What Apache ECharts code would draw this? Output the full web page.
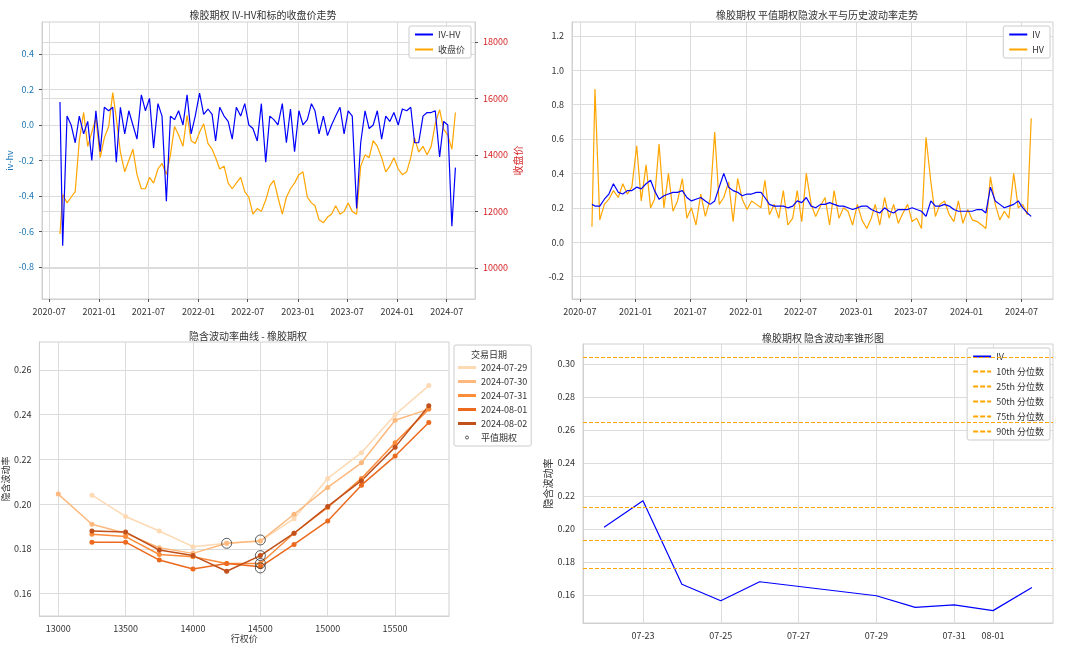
<!DOCTYPE html>
<html>
<head>
<meta charset="utf-8">
<script src="https://cdn.jsdelivr.net/npm/echarts@6/dist/echarts.min.js"></script>
<style>html,body{margin:0;padding:0;background:#fff}#main{width:1080px;height:646px}</style>
</head>
<body>
<div id="main"></div>
<script>
// 半月采样的时间序列 (2020-08 ~ 2024-08-02)
var closePrice = [11200,12600, 12300,12500, 12700,14500, 15500,14300, 14800,15300,
  13900,14600, 15000,16200, 15300,14100, 13400,13800, 14200,13300, 12800,12800,
  13200,13000, 13500,13700, 13300,14000, 15000,14700, 14300,15400, 14500,14400,
  14800,15100, 14400,14200, 13900,13500, 13600,13000, 12800,13000, 13200,12700,
  12500,11900, 12100,12000, 12400,12900, 13100,12500, 11900,12500, 12800,13000,
  13300,13400, 12500,12300, 12200,11700, 11600,11800, 11900,12200, 11900,12000,
  12300,12000, 11900,13600, 14000,13900, 14500,14300, 13900,13400, 13600,13900,
  13500,13300, 13400,13900, 14600,14100, 14300,14000, 14300,15100, 15600,14900,
  14700,14200, 15500];
var ivhv = [0.13,-0.68, 0.05,0.0, -0.1,0.05, -0.05,0.02, -0.2,0.08,
  -0.15,0.1, 0.08,0.1, -0.21,0.1, -0.05,0.08, 0.0,-0.08, 0.17,0.08,
  0.15,-0.13, 0.12,0.05, -0.43,0.05, 0.03,0.08, 0.0,0.17, -0.05,0.05,
  0.18,0.06, 0.09,0.06, -0.09,0.1, 0.05,0.02, -0.08,0.1, 0.05,0.12,
  0.0,-0.02, -0.09,0.12, -0.21,0.05, 0.03,0.0, 0.12,-0.1, 0.09,-0.15,
  0.08,0.0, 0.03,0.12, 0.08,-0.05, 0.05,-0.06, 0.0,0.05, 0.10,-0.05,
  0.08,0.05, -0.47,-0.1, 0.08,-0.02, 0.0,0.08, -0.08,0.05, 0.02,0.07,
  0.0,0.09, 0.08,0.1, -0.1,-0.1, 0.05,0.07, 0.07,0.08, -0.18,0.02,
  0.0,-0.57, -0.24];
var ivSeries = [0.22,0.21, 0.21,0.25, 0.28,0.34, 0.29,0.28, 0.30,0.30,
  0.32,0.31, 0.34,0.36, 0.30,0.25, 0.27,0.28, 0.29,0.29, 0.30,0.26,
  0.24,0.25, 0.26,0.24, 0.22,0.24, 0.32,0.40, 0.32,0.30, 0.29,0.27,
  0.28,0.28, 0.29,0.29, 0.26,0.22, 0.21,0.21, 0.21,0.20, 0.21,0.24,
  0.23,0.26, 0.21,0.20, 0.22,0.22, 0.23,0.22, 0.21,0.21, 0.20,0.19,
  0.20,0.21, 0.21,0.19, 0.18,0.17, 0.20,0.18, 0.17,0.19, 0.19,0.19,
  0.20,0.19, 0.18,0.15, 0.24,0.21, 0.21,0.22, 0.21,0.19, 0.18,0.18,
  0.18,0.18, 0.19,0.19, 0.17,0.32, 0.24,0.22, 0.20,0.21, 0.22,0.24,
  0.20,0.17, 0.15];
var hvSeries = [0.09,0.89, 0.13,0.22, 0.25,0.30, 0.26,0.34, 0.28,0.32,
  0.56,0.24, 0.45,0.20, 0.25,0.57, 0.20,0.40, 0.18,0.24, 0.37,0.14,
  0.20,0.10, 0.28,0.15, 0.25,0.64, 0.22,0.26, 0.35,0.12, 0.37,0.25,
  0.19,0.24, 0.22,0.20, 0.36,0.16, 0.22,0.14, 0.30,0.10, 0.14,0.30,
  0.12,0.40, 0.22,0.15, 0.21,0.26, 0.10,0.30, 0.14,0.20, 0.18,0.10,
  0.22,0.13, 0.08,0.14, 0.22,0.10, 0.26,0.14, 0.22,0.11, 0.17,0.22,
  0.12,0.14, 0.08,0.61, 0.35,0.15, 0.22,0.24, 0.16,0.12, 0.24,0.11,
  0.19,0.13, 0.12,0.10, 0.08,0.38, 0.22,0.13, 0.18,0.14, 0.40,0.20,
  0.22,0.16, 0.72];

// 波动率微笑
var strikes = [13000,13250,13500,13750,14000,14250,14500,14750,15000,15250,15500,15750];
var smileDates = ['2024-07-29','2024-07-30','2024-07-31','2024-08-01','2024-08-02'];
var smile0729 = [null,0.204,0.1945,0.188,0.181,0.1825,0.1835,0.1935,0.2115,0.223,0.240,0.253];
var smile0730 = [0.2045,0.191,0.187,0.1805,0.178,0.1825,0.1835,0.1955,0.2075,0.2185,0.2375,0.2425];
var smile0731 = [null,0.1865,0.1855,0.1775,0.1765,0.1735,0.1735,0.187,0.1985,0.2115,0.2275,0.2425];
var smile0801 = [null,0.183,0.183,0.175,0.171,0.1735,0.172,0.182,0.1925,0.2085,0.2215,0.2365];
var smile0802 = [null,0.188,0.1875,0.1795,0.177,0.170,0.177,0.187,0.199,0.2105,0.2255,0.244];
var atmPoints = [[14250,0.1825],[14500,0.184],[14500,0.177],[14500,0.1735],[14500,0.1715]];

// 锥形图
var coneDates = ['2024-07-22','2024-07-23','2024-07-24','2024-07-25','2024-07-26','2024-07-29','2024-07-30','2024-07-31','2024-08-01','2024-08-02'];
var coneIV = [0.201,0.217,0.1665,0.1565,0.168,0.1595,0.1525,0.154,0.1505,0.1645];
var quantNames = ['10th 分位数','25th 分位数','50th 分位数','75th 分位数','90th 分位数'];
var quantValues = [0.176,0.193,0.213,0.2645,0.304];

function ts(d) { return Date.UTC(+d.slice(0, 4), +d.slice(5, 7) - 1, +d.slice(8, 10), +(d.slice(11, 13) || 0)); }
var dates = [];
for (var y = 2020; y <= 2024; y++) {
  for (var m = 1; m <= 12; m++) {
    if (y === 2020 && m < 8) continue;
    if (y === 2024 && m > 7) continue;
    var mm = (m < 10 ? '0' : '') + m;
    dates.push(y + '-' + mm + '-05', y + '-' + mm + '-20');
  }
}
dates[0] = '2020-08-10';
dates.push('2024-08-02');
function pairs(vals) { return vals.map(function (v, i) { return [ts(dates[i]), v]; }); }

var halfYears = ['2020-07-01','2021-01-01','2021-07-01','2022-01-01','2022-07-01','2023-01-01','2023-07-01','2024-01-01','2024-07-01'].map(ts);
var font = '"Noto Sans CJK SC", sans-serif';
var txt = '#333';
var gridLine = { show: true, lineStyle: { color: '#dcdcdc', width: 1 } };
var border = { show: true, onZero: false, lineStyle: { color: '#d0d0d0' } };
function plain(v) { return String(v); }
function fmtMonth(v) { var d = new Date(v); var m = d.getUTCMonth() + 1; return d.getUTCFullYear() + '-' + (m < 10 ? '0' : '') + m; }
function fmtDay(v) { var d = new Date(v); var m = d.getUTCMonth() + 1, dd = d.getUTCDate(); return (m < 10 ? '0' : '') + m + '-' + (dd < 10 ? '0' : '') + dd; }

function timeAxis(gi) {
  return {
    type: 'value', gridIndex: gi, min: ts('2020-06-05'), max: ts('2024-10-13'),
    axisLine: border, axisTick: { show: true, customValues: halfYears, length: 3, lineStyle: { color: '#555' } },
    splitLine: gridLine,
    axisLabel: { customValues: halfYears, formatter: fmtMonth, color: txt, fontSize: 9, fontFamily: font }
  };
}
var smileColors = ['#fdd9b4', '#fdb97d', '#fd8c3b', '#ec6a1d', '#c1501a'];
var smileSets = [smile0729, smile0730, smile0731, smile0801, smile0802];
var smileVals = [0.16,0.18,0.20,0.22,0.24,0.26];
var smileX = [13000,13500,14000,14500,15000,15500];
var coneTicks = ['2024-07-23','2024-07-25','2024-07-27','2024-07-29','2024-07-31','2024-08-01'].map(ts);
var coneY = [0.16,0.18,0.20,0.22,0.24,0.26,0.28,0.30];

var titleStyle = { fontSize: 10, fontWeight: 'normal', color: txt, fontFamily: font };
var series = [
  { type: 'line', name: 'IV-HV', xAxisIndex: 0, yAxisIndex: 0, data: pairs(ivhv), showSymbol: false, lineStyle: { color: '#0000ff', width: 1.2 }, itemStyle: { color: '#0000ff' }, z: 3 },
  { type: 'line', name: '收盘价', xAxisIndex: 0, yAxisIndex: 1, data: pairs(closePrice), showSymbol: false, lineStyle: { color: '#ffa500', width: 1.2 }, itemStyle: { color: '#ffa500' }, z: 2 },
  { type: 'line', name: 'IV', xAxisIndex: 1, yAxisIndex: 2, data: pairs(ivSeries), showSymbol: false, lineStyle: { color: '#0000ff', width: 1.2 }, itemStyle: { color: '#0000ff' }, z: 3 },
  { type: 'line', name: 'HV', xAxisIndex: 1, yAxisIndex: 2, data: pairs(hvSeries), showSymbol: false, lineStyle: { color: '#ffa500', width: 1.2 }, itemStyle: { color: '#ffa500' }, z: 2 }
];
smileSets.forEach(function (s, k) {
  series.push({ type: 'line', name: smileDates[k], xAxisIndex: 2, yAxisIndex: 3,
    data: s.map(function (v, i) { return [strikes[i], v]; }).filter(function (p) { return p[1] !== null; }),
    symbol: 'circle', symbolSize: 5, lineStyle: { color: smileColors[k], width: 1.5 }, itemStyle: { color: smileColors[k] } });
});
series.push({ type: 'scatter', name: '平值期权', xAxisIndex: 2, yAxisIndex: 3, data: atmPoints, symbol: 'circle', symbolSize: 10,
  itemStyle: { color: 'rgba(0,0,0,0)', borderColor: '#333', borderWidth: 1 }, z: 5 });
series.push({ type: 'line', name: 'IV ', xAxisIndex: 3, yAxisIndex: 4, data: coneDates.map(function (d, i) { return [ts(d), coneIV[i]]; }),
  showSymbol: false, lineStyle: { color: '#0000ff', width: 1.2 }, itemStyle: { color: '#0000ff' } });
quantValues.forEach(function (q, k) {
  series.push({ type: 'line', name: quantNames[k], xAxisIndex: 3, yAxisIndex: 4, data: [], lineStyle: { color: '#ffa500', type: 'dashed', width: 1.2 }, itemStyle: { color: '#ffa500' },
    markLine: { silent: true, symbol: 'none', precision: 4, label: { show: false }, lineStyle: { color: '#ffa500', type: [4, 2], width: 1.2 }, data: [{ yAxis: q }] } });
});

var legendBase = { orient: 'vertical', backgroundColor: '#fff', borderColor: '#ccc', borderWidth: 1, borderRadius: 2, padding: [4, 6], itemWidth: 18, itemHeight: 8, itemGap: 3,
  textStyle: { fontSize: 9, color: txt, fontFamily: font } };
var dashIcon = 'path://M0,0h5v2h-5zM7,0h5v2h-5zM14,0h4v2h-4z';

var option = {
  backgroundColor: '#fff',
  animation: false,
  title: [
    { text: '橡胶期权 IV-HV和标的收盘价走势', left: 258, top: 5, textAlign: 'center', textStyle: titleStyle },
    { text: '橡胶期权 平值期权隐波水平与历史波动率走势', left: 812, top: 5, textAlign: 'center', textStyle: titleStyle },
    { text: '隐含波动率曲线 - 橡胶期权', left: 243, top: 326, textAlign: 'center', textStyle: titleStyle },
    { text: '橡胶期权 隐含波动率锥形图', left: 818, top: 328, textAlign: 'center', textStyle: titleStyle }
  ],
  grid: [
    { left: 42, top: 22, width: 433, height: 277, show: true, borderColor: '#d0d0d0' },
    { left: 572, top: 22, width: 481, height: 277, show: true, borderColor: '#d0d0d0' },
    { left: 36, top: 342, width: 413, height: 274, show: true, borderColor: '#d0d0d0' },
    { left: 583, top: 344, width: 470, height: 279, show: true, borderColor: '#d0d0d0' }
  ],
  legend: [
    Object.assign({}, legendBase, { data: [{ name: 'IV-HV', icon: 'rect' }, { name: '收盘价', icon: 'rect' }], right: 1080 - 471, top: 26, itemHeight: 2, itemGap: 6 }),
    Object.assign({}, legendBase, { data: [{ name: 'IV', icon: 'rect' }, { name: 'HV', icon: 'rect' }], right: 30, top: 26, itemHeight: 2, itemGap: 6 }),
    Object.assign({}, legendBase, { data: smileDates.map(function (d) { return { name: d, icon: 'rect' }; }).concat([{ name: '平值期权', icon: 'circle', itemStyle: { color: '#fff', borderColor: '#333', borderWidth: 1 } }]),
      left: 454, top: 345, padding: [18, 4, 4, 4], itemHeight: 3, itemGap: 5 }),
    Object.assign({}, legendBase, { data: [{ name: 'IV ', icon: 'rect' }].concat(quantNames.map(function (n) { return { name: n, icon: dashIcon }; })), right: 30, top: 348, itemHeight: 2, itemGap: 6 })
  ],
  graphic: [{ type: 'text', left: 471, top: 350, z: 100, style: { text: '交易日期', fontSize: 9, fill: txt, fontFamily: font } }],
  xAxis: [
    timeAxis(0), timeAxis(1),
    { type: 'value', gridIndex: 2, min: 12860, max: 15900, axisLine: border, axisTick: { show: false, customValues: smileX },
      splitLine: gridLine, axisLabel: { customValues: smileX, formatter: plain, color: txt, fontSize: 9, fontFamily: font },
      name: '行权价', nameLocation: 'middle', nameGap: 14, nameTextStyle: { fontSize: 9, color: txt, fontFamily: font } },
    { type: 'value', gridIndex: 3, min: ts('2024-07-21T11'), max: ts('2024-08-02T13'), axisLine: border,
      axisTick: { show: false, customValues: coneTicks }, splitLine: gridLine,
      axisLabel: { customValues: coneTicks, formatter: fmtDay, color: txt, fontSize: 9, fontFamily: font } }
  ],
  yAxis: [
    { type: 'value', gridIndex: 0, min: -0.98, max: 0.58, axisLine: border,
      axisTick: { show: true, customValues: [-0.8,-0.6,-0.4,-0.2,0,0.2,0.4], length: 3, lineStyle: { color: '#555' } }, splitLine: gridLine,
      axisLabel: { customValues: [-0.8,-0.6,-0.4,-0.2,0,0.2,0.4], formatter: function (v) { return v.toFixed(1); }, color: '#1f77b4', fontSize: 9, fontFamily: font },
      name: 'iv-hv', nameLocation: 'middle', nameGap: 28, nameTextStyle: { fontSize: 9, color: '#1f77b4', fontFamily: font } },
    { type: 'value', gridIndex: 0, position: 'right', min: 8900, max: 18700, axisLine: border,
      axisTick: { show: true, customValues: [10000,12000,14000,16000,18000], length: 3, lineStyle: { color: '#555' } }, splitLine: gridLine,
      axisLabel: { customValues: [10000,12000,14000,16000,18000], formatter: plain, color: '#d62728', fontSize: 9, fontFamily: font },
      name: '收盘价', nameLocation: 'middle', nameGap: 38, nameTextStyle: { fontSize: 10, color: '#d62728', fontFamily: font } },
    { type: 'value', gridIndex: 1, min: -0.33, max: 1.28, axisLine: border, axisTick: { show: false, customValues: [-0.2,0,0.2,0.4,0.6,0.8,1.0,1.2] },
      splitLine: gridLine, axisLabel: { customValues: [-0.2,0,0.2,0.4,0.6,0.8,1.0,1.2], formatter: function (v) { return v.toFixed(1); }, color: txt, fontSize: 9, fontFamily: font } },
    { type: 'value', gridIndex: 2, min: 0.15, max: 0.2725, axisLine: border, axisTick: { show: false, customValues: smileVals },
      splitLine: gridLine, axisLabel: { customValues: smileVals, formatter: function (v) { return v.toFixed(2); }, color: txt, fontSize: 9, fontFamily: font },
      name: '隐含波动率', nameLocation: 'middle', nameGap: 26, nameTextStyle: { fontSize: 9, color: txt, fontFamily: font } },
    { type: 'value', gridIndex: 3, min: 0.143, max: 0.312, axisLine: border, axisTick: { show: false, customValues: coneY },
      splitLine: gridLine, axisLabel: { customValues: coneY, formatter: function (v) { return v.toFixed(2); }, color: txt, fontSize: 9, fontFamily: font },
      name: '隐含波动率', nameLocation: 'middle', nameGap: 26, nameTextStyle: { fontSize: 10, color: txt, fontFamily: font } }
  ],
  series: series
};
echarts.init(document.getElementById('main')).setOption(option);
</script>
</body>
</html>
